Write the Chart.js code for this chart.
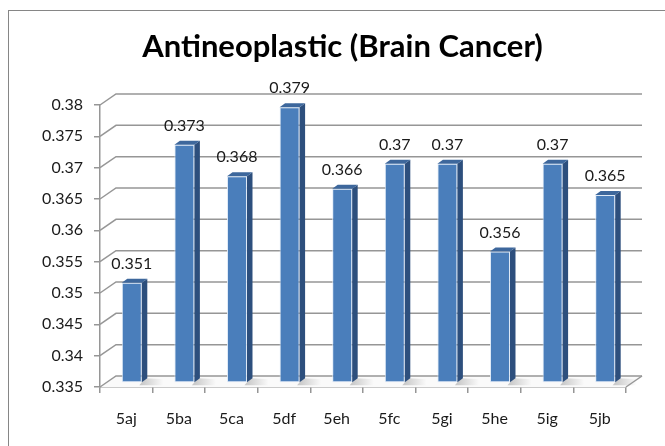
<!DOCTYPE html>
<html>
<head>
<meta charset="utf-8">
<script src="https://cdn.jsdelivr.net/npm/chart.js@4/dist/chart.umd.min.js"></script>
<style>
  html, body { margin: 0; padding: 0; background: #fff; }
  #wrap { width: 665px; height: 446px; position: relative; }
</style>
</head>
<body>
<div id="wrap"><canvas id="chart"></canvas></div>
<script>
// data
const categories = ['5aj', '5ba', '5ca', '5df', '5eh', '5fc', '5gi', '5he', '5ig', '5jb'];
const values = [0.351, 0.373, 0.368, 0.379, 0.366, 0.37, 0.37, 0.356, 0.37, 0.365];
const yTicks = [0.335, 0.34, 0.345, 0.35, 0.355, 0.36, 0.365, 0.37, 0.375, 0.38];

// fake 3d offsets (px)
const WALL = { dx: 16, dy: -11 };
const BAR_POS = { dx: 5.5, dy: -4 };
const BAR_DEPTH = { dx: 5.5, dy: -4 };

const FONT = 'Lato, "Open Sans", sans-serif';
const GRID = '#969696';

function fmt(v) {
  return String(+v.toFixed(3));
}

// outer frame of the excel chart
const framePlugin = {
  id: 'frame',
  beforeDraw(chart) {
    const ctx = chart.ctx;
    ctx.save();
    ctx.fillStyle = '#fff';
    ctx.fillRect(0, 0, chart.width, chart.height);
    ctx.strokeStyle = '#868686';
    ctx.lineWidth = 1;
    ctx.strokeRect(8.5, 10.5, chart.width + 10, chart.height + 10);
    ctx.restore();
  }
};

// back wall, side wall lines, floor, then the bars get pushed into depth
const threeD = {
  id: 'threeD',
  beforeDatasetsDraw(chart) {
    const ctx = chart.ctx;
    const y = chart.scales.y;
    const a = chart.chartArea;
    ctx.save();
    // floor
    const fy = y.getPixelForValue(yTicks[0]);
    ctx.fillStyle = '#fafafa';
    ctx.beginPath();
    ctx.moveTo(a.left, fy);
    ctx.lineTo(a.right, fy);
    ctx.lineTo(a.right + WALL.dx, fy + WALL.dy);
    ctx.lineTo(a.left + WALL.dx, fy + WALL.dy);
    ctx.closePath();
    ctx.fill();

    ctx.strokeStyle = GRID;
    ctx.lineWidth = 1.5;
    yTicks.forEach(v => {
      const py = y.getPixelForValue(v);
      ctx.beginPath();
      ctx.moveTo(a.left, py);
      ctx.lineTo(a.left + WALL.dx, py + WALL.dy);
      ctx.lineTo(a.right + WALL.dx, py + WALL.dy);
      ctx.stroke();
    });
    ctx.beginPath();
    ctx.moveTo(a.right, fy);
    ctx.lineTo(a.right + WALL.dx, fy + WALL.dy);
    ctx.stroke();

    // soft shadows of the columns on the floor
    const meta = chart.getDatasetMeta(0);
    meta.data.forEach(bar => {
      const x0 = bar.x + bar.width / 2 + BAR_POS.dx + BAR_DEPTH.dx;
      const by = bar.base + BAR_POS.dy;
      const g = ctx.createLinearGradient(x0 - 6, 0, x0 + 16, 0);
      g.addColorStop(0, 'rgba(150,150,150,0.5)');
      g.addColorStop(1, 'rgba(150,150,150,0)');
      ctx.fillStyle = g;
      ctx.beginPath();
      ctx.moveTo(x0 - 8, by + 3);
      ctx.lineTo(x0 + 18, by + 3);
      ctx.lineTo(x0 + 18, by - 3);
      ctx.lineTo(x0 - 2, by - 4);
      ctx.closePath();
      ctx.fill();
    });
    ctx.restore();

    ctx.save();
    ctx.translate(BAR_POS.dx, BAR_POS.dy);
  },
  afterDatasetsDraw(chart) {
    const ctx = chart.ctx;
    const meta = chart.getDatasetMeta(0);
    meta.data.forEach(bar => {
      const l = bar.x - bar.width / 2;
      const r = bar.x + bar.width / 2;
      // side
      ctx.fillStyle = '#2d4f7d';
      ctx.beginPath();
      ctx.moveTo(r, bar.y);
      ctx.lineTo(r + BAR_DEPTH.dx, bar.y + BAR_DEPTH.dy);
      ctx.lineTo(r + BAR_DEPTH.dx, bar.base + BAR_DEPTH.dy);
      ctx.lineTo(r, bar.base);
      ctx.closePath();
      ctx.fill();
      // top
      ctx.fillStyle = '#3d679c';
      ctx.beginPath();
      ctx.moveTo(l, bar.y);
      ctx.lineTo(r, bar.y);
      ctx.lineTo(r + BAR_DEPTH.dx, bar.y + BAR_DEPTH.dy);
      ctx.lineTo(l + BAR_DEPTH.dx, bar.y + BAR_DEPTH.dy);
      ctx.closePath();
      ctx.fill();
    });
    // value labels
    ctx.fillStyle = '#1a1a1a';
    ctx.font = '16px ' + FONT;
    ctx.textAlign = 'center';
    ctx.textBaseline = 'middle';
    meta.data.forEach((bar, i) => {
      ctx.fillText(fmt(values[i]), bar.x, bar.y - 19);
    });
    ctx.restore();
  }
};

new Chart(document.getElementById('chart'), {
  type: 'bar',
  data: {
    labels: categories,
    datasets: [{
      data: values,
      base: yTicks[0],
      backgroundColor: '#4a7ebb',
      borderColor: 'rgba(220,232,246,0.9)',
      borderWidth: 1,
      borderSkipped: false,
      categoryPercentage: 1,
      barPercentage: 0.38,
      clip: false
    }]
  },
  options: {
    responsive: true,
    maintainAspectRatio: false,
    animation: false,
    layout: { padding: { left: 20, right: 0, top: 0, bottom: 0 } },
    plugins: {
      legend: { display: false },
      tooltip: { enabled: false },
      title: {
        display: true,
        text: 'Antineoplastic (Brain Cancer)',
        color: '#000',
        font: { family: FONT, size: 31, weight: 'bold', lineHeight: 1.2 },
        padding: { top: 28.5, bottom: 39.3 }
      }
    },
    scales: {
      x: {
        afterFit(s) { s.height = 59; },
        grid: {
          offset: true,
          drawOnChartArea: false,
          drawTicks: true,
          tickLength: 6,
          color: GRID,
          lineWidth: 1.5
        },
        border: { display: true, color: GRID, width: 1.5 },
        ticks: {
          color: '#1a1a1a',
          font: { family: FONT, size: 16 },
          padding: 16,
          maxRotation: 0
        }
      },
      y: {
        min: 0.335,
        max: 0.38,
        beginAtZero: false,
        afterFit(s) { s.width = 80; },
        afterBuildTicks(s) { s.ticks = yTicks.map(v => ({ value: v })); },
        grid: {
          drawOnChartArea: false,
          drawTicks: true,
          tickLength: 6,
          color: GRID,
          lineWidth: 1.5
        },
        border: { display: true, color: GRID, width: 1.5 },
        ticks: {
          color: '#1a1a1a',
          font: { family: FONT, size: 16 },
          padding: 11,
          callback: v => fmt(v)
        }
      },
      // empty strip that keeps the plot off the right edge
      pad: {
        position: 'right',
        display: true,
        afterFit(s) { s.width = 39; },
        grid: { display: false, drawTicks: false },
        border: { display: false },
        ticks: { display: false }
      }
    }
  },
  plugins: [framePlugin, threeD]
});
</script>
</body>
</html>
